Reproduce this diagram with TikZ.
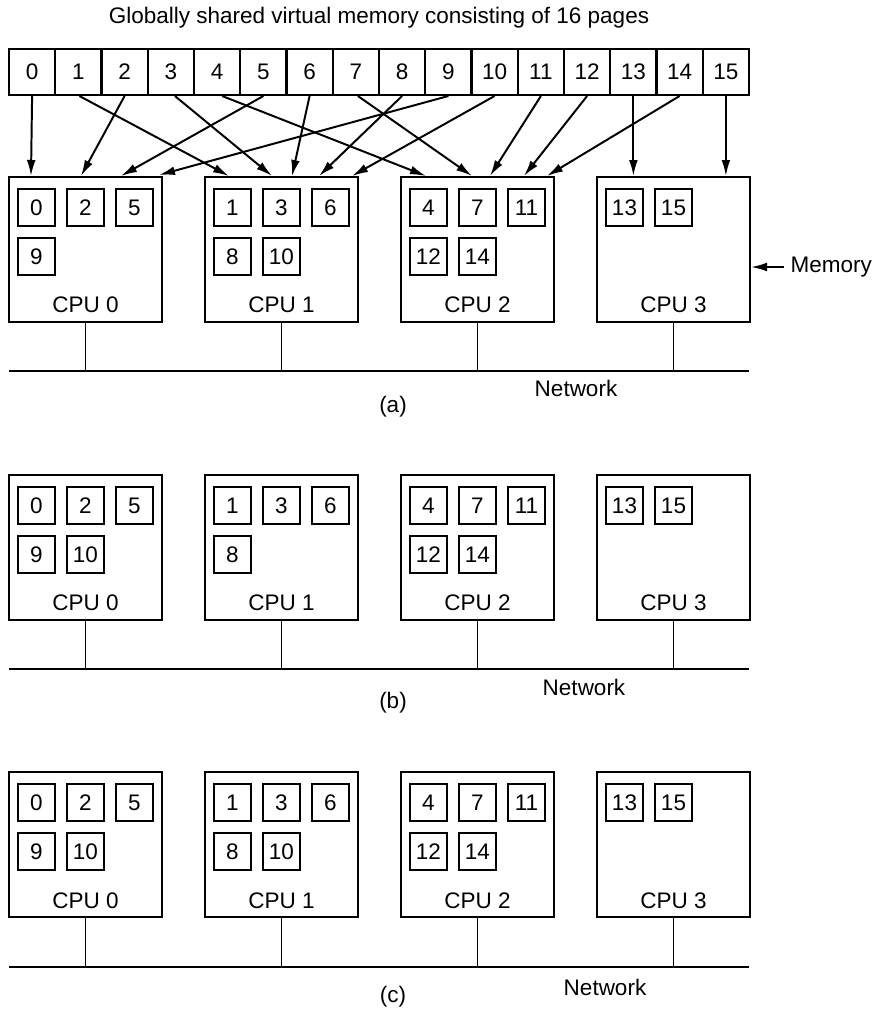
\documentclass[tikz,border=0pt]{standalone}
\usepackage{fontspec}
\setmainfont{Liberation Sans}
\usetikzlibrary{positioning,arrows.meta,calc}

\begin{document}
\begin{tikzpicture}[x=0.025cm,y=-0.025cm,line width=1.4pt,
  txt/.style={font=\fontsize{16}{19}\selectfont,inner sep=0pt},
  cell/.style={rectangle,draw,minimum width=1.156cm,minimum height=1.15cm,
               inner sep=0pt,font=\fontsize{16}{19}\selectfont},
  cpu/.style={rectangle,draw,minimum width=3.825cm,minimum height=3.625cm},
  pg/.style={rectangle,draw,minimum size=0.925cm,inner sep=0pt,
             font=\fontsize{16}{19}\selectfont},
  arr/.style={-{Latex[length=4mm,width=2.2mm]}}
]
\useasboundingbox (0,0) rectangle (875,1009);

\node[txt] (title) at (379,18) {Globally shared virtual memory consisting of 16 pages};

% shared pages
\node[cell] (p0) at (32.1,72) {0};
\node[cell] (p1) at (78.4,72) {1};
\node[cell] (p2) at (124.6,72) {2};
\node[cell] (p3) at (170.9,72) {3};
\node[cell] (p4) at (217.1,72) {4};
\node[cell] (p5) at (263.4,72) {5};
\node[cell] (p6) at (309.6,72) {6};
\node[cell] (p7) at (355.9,72) {7};
\node[cell] (p8) at (402.1,72) {8};
\node[cell] (p9) at (448.4,72) {9};
\node[cell] (p10) at (494.6,72) {10};
\node[cell] (p11) at (540.9,72) {11};
\node[cell] (p12) at (587.1,72) {12};
\node[cell] (p13) at (633.4,72) {13};
\node[cell] (p14) at (679.6,72) {14};
\node[cell] (p15) at (725.9,72) {15};

% (a)
\node[cpu] (cpu0a) at (85.5,249.5) {};
\node[cpu] (cpu1a) at (281.5,249.5) {};
\node[cpu] (cpu2a) at (477.5,249.5) {};
\node[cpu] (cpu3a) at (673.5,249.5) {};
\node[pg] (a0) at (36.5,207.5) {0};
\node[pg] (a2) at (85.5,207.5) {2};
\node[pg] (a5) at (134.5,207.5) {5};
\node[pg] (a9) at (36.5,256.5) {9};
\node[pg] (a1) at (232.5,207.5) {1};
\node[pg] (a3) at (281.5,207.5) {3};
\node[pg] (a6) at (330.5,207.5) {6};
\node[pg] (a8) at (232.5,256.5) {8};
\node[pg] (a10) at (281.5,256.5) {10};
\node[pg] (a4) at (428.5,207.5) {4};
\node[pg] (a7) at (477.5,207.5) {7};
\node[pg] (a11) at (526.5,207.5) {11};
\node[pg] (a12) at (428.5,256.5) {12};
\node[pg] (a14) at (477.5,256.5) {14};
\node[pg] (a13) at (624.5,207.5) {13};
\node[pg] (a15) at (673.5,207.5) {15};
\node[txt] (l0a) at (85.5,305) {CPU 0};
\node[txt] (l1a) at (281.5,305) {CPU 1};
\node[txt] (l2a) at (477.5,305) {CPU 2};
\node[txt] (l3a) at (673.5,305) {CPU 3};

\draw[arr] (p0.south) -- ($(cpu0a.north west)+(23,0)$);
\draw[arr] (p2.south) -- ($(cpu0a.north west)+(73,0)$);
\draw[arr] (p5.south) -- ($(cpu0a.north west)+(113,0)$);
\draw[arr] (p9.south) -- ($(cpu0a.north west)+(151,-1)$);
\draw[arr] ($(p1.south)+(1,0)$) -- ($(cpu1a.north west)+(25,0)$);
\draw[arr] ($(p3.south)+(4,0)$) -- ($(cpu1a.north west)+(68,0)$);
\draw[arr] (p6.south) -- ($(cpu1a.north west)+(88,0)$);
\draw[arr] (p8.south) -- ($(cpu1a.north west)+(115,0)$);
\draw[arr] (p10.south) -- ($(cpu1a.north west)+(148,0)$);
\draw[arr] ($(p4.south)+(5,0)$) -- ($(cpu2a.north west)+(26,0)$);
\draw[arr] ($(p7.south)+(2,0)$) -- ($(cpu2a.north west)+(72,0)$);
\draw[arr] (p11.south) -- ($(cpu2a.north west)+(90,0)$);
\draw[arr] (p12.south) -- ($(cpu2a.north west)+(124,0)$);
\draw[arr] (p14.south) -- ($(cpu2a.north west)+(147,0)$);
\draw[arr] (p13.south) -- (p13.south |- cpu3a.north);
\draw[arr] (p15.south) -- (p15.south |- cpu3a.north);

\node[txt,anchor=west,inner xsep=4pt] (mem) at (784,267) {Memory};
\draw[arr] (mem.west) -- (mem.west -| cpu3a.east);

\coordinate (neta) at (9,371);
\coordinate (netae) at (749,371);
\draw (neta) -- (netae);
\draw (cpu0a.south) -- (cpu0a.south |- neta);
\draw (cpu1a.south) -- (cpu1a.south |- neta);
\draw (cpu2a.south) -- (cpu2a.south |- neta);
\draw (cpu3a.south) -- (cpu3a.south |- neta);
\node[txt] (nla) at (576,388) {Network};
\node[txt] (capa) at (393,407) {(a)};

% (b)
\node[cpu] (cpu0b) at (85.5,547.5) {};
\node[cpu] (cpu1b) at (281.5,547.5) {};
\node[cpu] (cpu2b) at (477.5,547.5) {};
\node[cpu] (cpu3b) at (673.5,547.5) {};
\node[pg] (b0) at (36.5,505.5) {0};
\node[pg] (b2) at (85.5,505.5) {2};
\node[pg] (b5) at (134.5,505.5) {5};
\node[pg] (b9) at (36.5,554.5) {9};
\node[pg] (b10) at (85.5,554.5) {10};
\node[pg] (b1) at (232.5,505.5) {1};
\node[pg] (b3) at (281.5,505.5) {3};
\node[pg] (b6) at (330.5,505.5) {6};
\node[pg] (b8) at (232.5,554.5) {8};
\node[pg] (b4) at (428.5,505.5) {4};
\node[pg] (b7) at (477.5,505.5) {7};
\node[pg] (b11) at (526.5,505.5) {11};
\node[pg] (b12) at (428.5,554.5) {12};
\node[pg] (b14) at (477.5,554.5) {14};
\node[pg] (b13) at (624.5,505.5) {13};
\node[pg] (b15) at (673.5,505.5) {15};
\node[txt] (l0b) at (85.5,603) {CPU 0};
\node[txt] (l1b) at (281.5,603) {CPU 1};
\node[txt] (l2b) at (477.5,603) {CPU 2};
\node[txt] (l3b) at (673.5,603) {CPU 3};

\coordinate (netb) at (9,669);
\coordinate (netbe) at (749,669);
\draw (netb) -- (netbe);
\draw (cpu0b.south) -- (cpu0b.south |- netb);
\draw (cpu1b.south) -- (cpu1b.south |- netb);
\draw (cpu2b.south) -- (cpu2b.south |- netb);
\draw (cpu3b.south) -- (cpu3b.south |- netb);
\node[txt] (nlb) at (584,687) {Network};
\node[txt] (capb) at (393,703) {(b)};

% (c)
\node[cpu] (cpu0c) at (85.5,844.5) {};
\node[cpu] (cpu1c) at (281.5,844.5) {};
\node[cpu] (cpu2c) at (477.5,844.5) {};
\node[cpu] (cpu3c) at (673.5,844.5) {};
\node[pg] (c0) at (36.5,802.5) {0};
\node[pg] (c2) at (85.5,802.5) {2};
\node[pg] (c5) at (134.5,802.5) {5};
\node[pg] (c9) at (36.5,851.5) {9};
\node[pg] (c10) at (85.5,851.5) {10};
\node[pg] (c1) at (232.5,802.5) {1};
\node[pg] (c3) at (281.5,802.5) {3};
\node[pg] (c6) at (330.5,802.5) {6};
\node[pg] (c8) at (232.5,851.5) {8};
\node[pg] (c10b) at (281.5,851.5) {10};
\node[pg] (c4) at (428.5,802.5) {4};
\node[pg] (c7) at (477.5,802.5) {7};
\node[pg] (c11) at (526.5,802.5) {11};
\node[pg] (c12) at (428.5,851.5) {12};
\node[pg] (c14) at (477.5,851.5) {14};
\node[pg] (c13) at (624.5,802.5) {13};
\node[pg] (c15) at (673.5,802.5) {15};
\node[txt] (l0c) at (85.5,901) {CPU 0};
\node[txt] (l1c) at (281.5,901) {CPU 1};
\node[txt] (l2c) at (477.5,901) {CPU 2};
\node[txt] (l3c) at (673.5,901) {CPU 3};

\coordinate (netc) at (9,967);
\coordinate (netce) at (749,967);
\draw (netc) -- (netce);
\draw (cpu0c.south) -- (cpu0c.south |- netc);
\draw (cpu1c.south) -- (cpu1c.south |- netc);
\draw (cpu2c.south) -- (cpu2c.south |- netc);
\draw (cpu3c.south) -- (cpu3c.south |- netc);
\node[txt] (nlc) at (605,987) {Network};
\node[txt] (capc) at (393,997) {(c)};
\end{tikzpicture}
\end{document}
